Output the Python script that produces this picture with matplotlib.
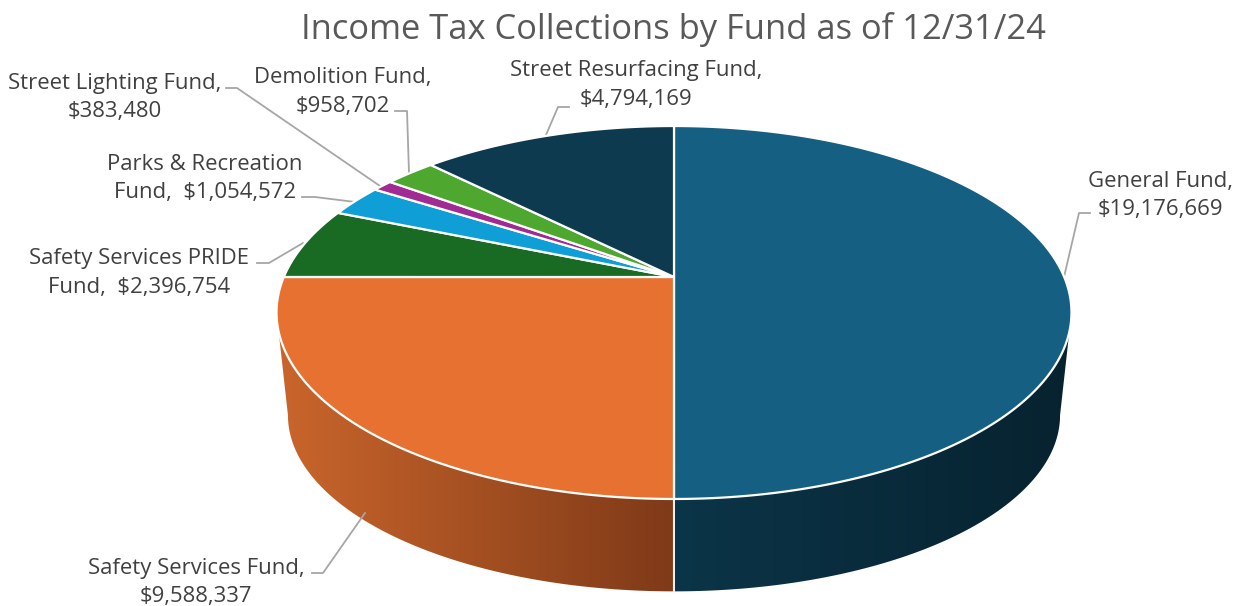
"""
Income tax collections by fund, drawn as a tilted 3D pie with perspective.
"""

import matplotlib
matplotlib.use('Agg')
import matplotlib.pyplot as plt
import matplotlib.colors as mcolors
from matplotlib.patches import Polygon
import numpy as np

funds = ['General Fund', 'Safety Services Fund', 'Safety Services PRIDE\nFund',
         'Parks & Recreation\nFund', 'Street Lighting Fund', 'Demolition Fund',
         'Street Resurfacing Fund']
amounts = [19176669, 9588337, 2396754, 1054572, 383480, 958702, 4794169]
colors = ['#156082', '#E67131', '#196B24', '#0F9ED5', '#A02B93', '#4EA72E', '#0D3A4E']
title = 'Income Tax Collections by Fund as of 12/31/24'

label_pos = [(1160, 195.5), (196, 582.5), (139, 273), (205, 178.5), (115, 97.5), (343, 92), (636, 85)]
leaders = [
    [(1090, 213), (1079, 213), (1064, 277)],
    [(312, 573), (323, 573), (365, 513)],
    [(257, 263), (269, 263), (303, 243)],
    [(302, 197), (315, 197), (355, 202)],
    [(226, 88), (237, 88), (380, 186)],
    [(395, 111), (407, 111), (409, 173)],
    [(569, 107), (558, 107), (546, 135)],
]

# side wall colours at the left and right end of each visible wall
side_ramps = {0: ('#0B3548', '#07222F'), 1: ('#CB662C', '#7F3A18')}
side_x = {0: (674, 1075), 1: (272, 674)}

CX = 674
K = 0.19035


def project(theta, y0, a, b):
    """Map pie angle (clockwise from 12 o'clock) to pixel position."""
    u, v = np.sin(theta), np.cos(theta)
    w = 1 + K * v
    return np.column_stack([CX + a * u / w, (y0 - b * v) / w])


def top_rim(theta):
    return project(theta, 277, 390.2, 127)


def bottom_rim(theta):
    return project(theta, 381.6, 379, 97.2)


plt.rcParams['font.family'] = ['Open Sans', 'DejaVu Sans']
fig = plt.figure(figsize=(12.38, 6.06), dpi=100)
ax = fig.add_axes([0, 0, 1, 1])

edges = np.concatenate([[0], np.cumsum(amounts)]) / np.sum(amounts) * 2 * np.pi

# the rims' outermost points sit at this angle off 3 and 9 o'clock
tangent = np.arcsin(K)

# side walls of the two slices facing the viewer, a horizontal gradient clipped to the wall
for i in side_ramps:
    start = max(edges[i], np.pi / 2 + tangent)
    end = min(edges[i + 1], 3 * np.pi / 2 - tangent)
    theta = np.linspace(start, end, 240)
    outline = np.vstack([top_rim(theta), bottom_rim(theta)[::-1]])
    cmap = mcolors.LinearSegmentedColormap.from_list(f'side{i}', side_ramps[i])
    x0, x1 = side_x[i]
    im = ax.imshow(np.linspace(0, 1, 256).reshape(1, -1), cmap=cmap, aspect='auto',
                   extent=(x0, x1, 606, 0), zorder=1, interpolation='bilinear')
    wall = Polygon(outline, closed=True, transform=ax.transData, facecolor='none', edgecolor='none')
    ax.add_patch(wall)
    im.set_clip_path(wall)

ax.set_xlim(0, 1238)
ax.set_ylim(606, 0)
ax.axis('off')

# white seam between the two walls
seam = np.concatenate([top_rim(np.array([edges[1]])), bottom_rim(np.array([edges[1]]))])
ax.plot(seam[:, 0], seam[:, 1], color='#F2F2F2', lw=1.5, zorder=2)

# top face
center = np.array([[CX, 277.0]])
for i, color in enumerate(colors):
    n = max(int((edges[i + 1] - edges[i]) * 120), 4)
    rim = top_rim(np.linspace(edges[i], edges[i + 1], n))
    ax.add_patch(Polygon(np.vstack([center, rim]), closed=True, facecolor=color,
                         edgecolor='white', linewidth=1.6, joinstyle='round', zorder=3))

# leader lines and labels
for i, name in enumerate(funds):
    sep = ',  ' if '\n' in name else ',\n'
    x, y = label_pos[i]
    ax.text(x, y, f'{name}{sep}${amounts[i]:,}', ha='center', va='center', fontsize=15.9,
            color='#404040', linespacing=1.44, zorder=5)
    pts = np.array(leaders[i])
    ax.plot(pts[:, 0], pts[:, 1], color='#A6A6A6', lw=1.3, zorder=2.5)

ax.text(673.5, 29.5, title, ha='center', va='center', fontsize=24.8, color='#595959')

fig.savefig('out.png', dpi=100)
